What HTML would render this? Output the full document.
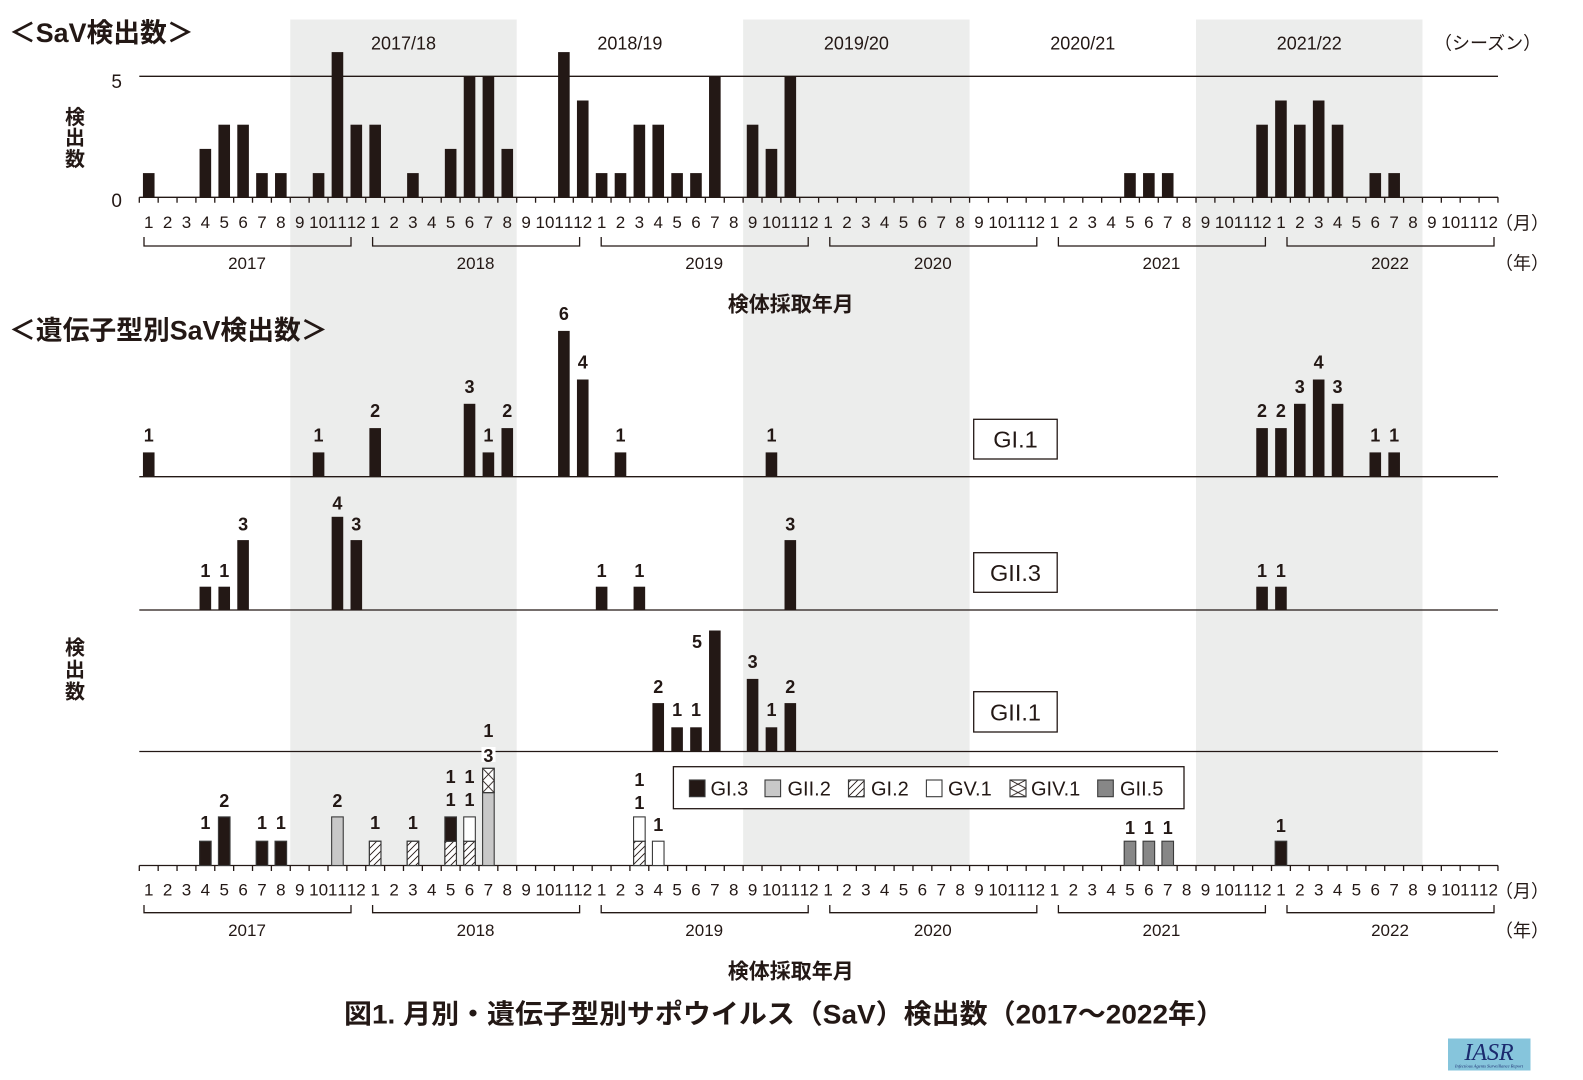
<!DOCTYPE html>
<html><head><meta charset="utf-8"><style>
html,body{margin:0;padding:0;background:#fff;}
svg{display:block;}
text{font-family:"Liberation Sans","Noto Sans CJK JP",sans-serif;fill:#231815;}
.m{font-size:17px;text-anchor:middle;}
.b{font-weight:bold;}
.v{font-size:18px;font-weight:bold;text-anchor:middle;}
</style></head><body>
<svg width="1583" height="1080" viewBox="0 0 1583 1080" xmlns="http://www.w3.org/2000/svg">
<defs>
<pattern id="hatch" patternUnits="userSpaceOnUse" width="7" height="7"><path d="M-1,8 L8,-1 M-1,1 L1,-1 M6,8 L8,6" stroke="#231815" stroke-width="0.9"/></pattern>
<pattern id="cross" patternUnits="userSpaceOnUse" x="482.6" y="768.3" width="11.6" height="12.15"><path d="M0,0 L11.6,12.15 M11.6,0 L0,12.15" stroke="#231815" stroke-width="0.9"/></pattern>
<pattern id="crossL" patternUnits="userSpaceOnUse" x="1010" y="780" width="16" height="8.35"><path d="M0,0 L16,8.35 M16,0 L0,8.35" stroke="#231815" stroke-width="0.9"/></pattern>
</defs>
<rect width="1583" height="1080" fill="#fff"/>
<!-- season shading -->
<rect x="290.26" y="19.5" width="226.44" height="846" fill="#ecedec"/>
<rect x="743.14" y="19.5" width="226.44" height="846" fill="#ecedec"/>
<rect x="1196.02" y="19.5" width="226.44" height="846" fill="#ecedec"/>

<!-- titles -->
<text x="9" y="41.8" font-size="26.8" class="b">＜SaV検出数＞</text>
<text x="9" y="339.4" font-size="26.8" class="b">＜遺伝子型別SaV検出数＞</text>

<!-- season labels -->
<g font-size="18" text-anchor="middle">
<text x="403.48" y="49.7">2017/18</text>
<text x="629.92" y="49.7">2018/19</text>
<text x="856.36" y="49.7">2019/20</text>
<text x="1082.8" y="49.7">2020/21</text>
<text x="1309.24" y="49.7">2021/22</text>
</g>
<text x="1434" y="49.5" font-size="18">（シーズン）</text>

<!-- top chart axes -->
<line x1="139.3" y1="76.3" x2="1498" y2="76.3" stroke="#231815" stroke-width="1.3"/>
<line x1="139.3" y1="197.3" x2="1498" y2="197.3" stroke="#231815" stroke-width="1.3"/>
<line x1="138.65" y1="200" x2="1499" y2="200" stroke="#231815" stroke-width="5.5" stroke-dasharray="1.3 17.57"/>
<text x="122" y="87.8" font-size="19" text-anchor="end">5</text>
<text x="122" y="206.8" font-size="19" text-anchor="end">0</text>
<g font-size="20" class="b" text-anchor="middle">
<text x="75" y="123.9">検</text><text x="75" y="144.3">出</text><text x="75" y="165.9">数</text>
</g>

<!-- top bars -->
<g fill="#231815">
<rect x="142.94" y="173.1" width="11.6" height="24.2"/>
<rect x="199.55" y="148.9" width="11.6" height="48.4"/>
<rect x="218.42" y="124.7" width="11.6" height="72.6"/>
<rect x="237.29" y="124.7" width="11.6" height="72.6"/>
<rect x="256.16" y="173.1" width="11.6" height="24.2"/>
<rect x="275.03" y="173.1" width="11.6" height="24.2"/>
<rect x="312.77" y="173.1" width="11.6" height="24.2"/>
<rect x="331.64" y="52.1" width="11.6" height="145.2"/>
<rect x="350.51" y="124.7" width="11.6" height="72.6"/>
<rect x="369.38" y="124.7" width="11.6" height="72.6"/>
<rect x="407.12" y="173.1" width="11.6" height="24.2"/>
<rect x="444.86" y="148.9" width="11.6" height="48.4"/>
<rect x="463.73" y="76.3" width="11.6" height="121"/>
<rect x="482.60" y="76.3" width="11.6" height="121"/>
<rect x="501.47" y="148.9" width="11.6" height="48.4"/>
<rect x="558.08" y="52.1" width="11.6" height="145.2"/>
<rect x="576.95" y="100.5" width="11.6" height="96.8"/>
<rect x="595.82" y="173.1" width="11.6" height="24.2"/>
<rect x="614.69" y="173.1" width="11.6" height="24.2"/>
<rect x="633.56" y="124.7" width="11.6" height="72.6"/>
<rect x="652.43" y="124.7" width="11.6" height="72.6"/>
<rect x="671.30" y="173.1" width="11.6" height="24.2"/>
<rect x="690.17" y="173.1" width="11.6" height="24.2"/>
<rect x="709.04" y="76.3" width="11.6" height="121"/>
<rect x="746.78" y="124.7" width="11.6" height="72.6"/>
<rect x="765.65" y="148.9" width="11.6" height="48.4"/>
<rect x="784.52" y="76.3" width="11.6" height="121"/>
<rect x="1124.18" y="173.1" width="11.6" height="24.2"/>
<rect x="1143.05" y="173.1" width="11.6" height="24.2"/>
<rect x="1161.92" y="173.1" width="11.6" height="24.2"/>
<rect x="1256.27" y="124.7" width="11.6" height="72.6"/>
<rect x="1275.14" y="100.5" width="11.6" height="96.8"/>
<rect x="1294.01" y="124.7" width="11.6" height="72.6"/>
<rect x="1312.88" y="100.5" width="11.6" height="96.8"/>
<rect x="1331.75" y="124.7" width="11.6" height="72.6"/>
<rect x="1369.49" y="173.1" width="11.6" height="24.2"/>
<rect x="1388.36" y="173.1" width="11.6" height="24.2"/>
</g>

<!-- top month labels -->
<g class="m">
<text y="227.8" x="148.74 167.61 186.48 205.35 224.22 243.09 261.96 280.83 299.70 313.84 323.30 332.71 342.17 351.58 361.04">123456789101112</text>
<text y="227.8" x="375.18 394.05 412.92 431.79 450.66 469.53 488.40 507.27 526.14 540.28 549.74 559.15 568.61 578.02 587.48">123456789101112</text>
<text y="227.8" x="601.62 620.49 639.36 658.23 677.10 695.97 714.84 733.71 752.58 766.72 776.18 785.59 795.05 804.46 813.92">123456789101112</text>
<text y="227.8" x="828.06 846.93 865.80 884.67 903.54 922.41 941.28 960.15 979.02 993.16 1002.62 1012.03 1021.49 1030.90 1040.36">123456789101112</text>
<text y="227.8" x="1054.50 1073.37 1092.24 1111.11 1129.98 1148.85 1167.72 1186.59 1205.46 1219.60 1229.06 1238.47 1247.93 1257.34 1266.80">123456789101112</text>
<text y="227.8" x="1280.94 1299.81 1318.68 1337.55 1356.42 1375.29 1394.16 1413.03 1431.90 1446.04 1455.50 1464.91 1474.37 1483.78 1493.24">123456789101112</text>
</g>
<text x="1495" y="229.3" font-size="18">（月）</text>
<text x="1495" y="269.3" font-size="18">（年）</text>

<!-- top brackets -->
<path d="M144,237V246H351V237 M372.6,237V246H579.6V237 M601.2,237V246H808.2V237 M829.8,237V246H1036.8V237 M1058.4,237V246H1265.4V237 M1287,237V246H1494V237" fill="none" stroke="#231815" stroke-width="1.3"/>
<g class="m">
<text x="247" y="268.8">2017</text>
<text x="475.6" y="268.8">2018</text>
<text x="704.2" y="268.8">2019</text>
<text x="932.8" y="268.8">2020</text>
<text x="1161.4" y="268.8">2021</text>
<text x="1390" y="268.8">2022</text>
</g>
<text x="790.8" y="311.3" font-size="21" class="b" text-anchor="middle">検体採取年月</text>

<!-- lower panels baselines -->
<g stroke="#231815" stroke-width="1.3">
<line x1="139.3" y1="476.7" x2="1498" y2="476.7"/>
<line x1="139.3" y1="610" x2="1498" y2="610"/>
<line x1="139.3" y1="751.5" x2="1498" y2="751.5"/>
<line x1="139.3" y1="865.5" x2="1498" y2="865.5"/>
</g>
<line x1="138.65" y1="868.2" x2="1499" y2="868.2" stroke="#231815" stroke-width="5.5" stroke-dasharray="1.3 17.57"/>

<g font-size="20" class="b" text-anchor="middle">
<text x="75" y="654.3">検</text><text x="75" y="676.6">出</text><text x="75" y="698.6">数</text>
</g>

<!-- GI.1 -->
<g fill="#231815">
<rect x="142.94" y="452.4" width="11.6" height="24.3"/>
<rect x="312.77" y="452.4" width="11.6" height="24.3"/>
<rect x="369.38" y="428.1" width="11.6" height="48.6"/>
<rect x="463.73" y="403.8" width="11.6" height="72.9"/>
<rect x="482.60" y="452.4" width="11.6" height="24.3"/>
<rect x="501.47" y="428.1" width="11.6" height="48.6"/>
<rect x="558.08" y="330.9" width="11.6" height="145.8"/>
<rect x="576.95" y="379.5" width="11.6" height="97.2"/>
<rect x="614.69" y="452.4" width="11.6" height="24.3"/>
<rect x="765.65" y="452.4" width="11.6" height="24.3"/>
<rect x="1256.27" y="428.1" width="11.6" height="48.6"/>
<rect x="1275.14" y="428.1" width="11.6" height="48.6"/>
<rect x="1294.01" y="403.8" width="11.6" height="72.9"/>
<rect x="1312.88" y="379.5" width="11.6" height="97.2"/>
<rect x="1331.75" y="403.8" width="11.6" height="72.9"/>
<rect x="1369.49" y="452.4" width="11.6" height="24.3"/>
<rect x="1388.36" y="452.4" width="11.6" height="24.3"/>
</g>
<g class="v">
<text x="148.74" y="441.4">1</text>
<text x="318.57" y="441.4">1</text>
<text x="375.18" y="417.1">2</text>
<text x="469.53" y="392.8">3</text>
<text x="488.40" y="441.4">1</text>
<text x="507.27" y="417.1">2</text>
<text x="563.88" y="319.9">6</text>
<text x="582.75" y="368.5">4</text>
<text x="620.49" y="441.4">1</text>
<text x="771.45" y="441.4">1</text>
<text x="1262.07" y="417.1">2</text>
<text x="1280.94" y="417.1">2</text>
<text x="1299.81" y="392.8">3</text>
<text x="1318.68" y="368.5">4</text>
<text x="1337.55" y="392.8">3</text>
<text x="1375.29" y="441.4">1</text>
<text x="1394.16" y="441.4">1</text>
</g>

<!-- GII.3 -->
<g fill="#231815">
<rect x="199.55" y="586.7" width="11.6" height="23.3"/>
<rect x="218.42" y="586.7" width="11.6" height="23.3"/>
<rect x="237.29" y="540.1" width="11.6" height="69.9"/>
<rect x="331.64" y="516.8" width="11.6" height="93.2"/>
<rect x="350.51" y="540.1" width="11.6" height="69.9"/>
<rect x="595.82" y="586.7" width="11.6" height="23.3"/>
<rect x="633.56" y="586.7" width="11.6" height="23.3"/>
<rect x="784.52" y="540.1" width="11.6" height="69.9"/>
<rect x="1256.27" y="586.7" width="11.6" height="23.3"/>
<rect x="1275.14" y="586.7" width="11.6" height="23.3"/>
</g>
<g class="v">
<text x="205.35" y="577">1</text>
<text x="224.22" y="577">1</text>
<text x="243.09" y="530.3">3</text>
<text x="337.44" y="509.5">4</text>
<text x="356.31" y="530.3">3</text>
<text x="601.62" y="577">1</text>
<text x="639.36" y="577">1</text>
<text x="790.32" y="530.3">3</text>
<text x="1262.07" y="577">1</text>
<text x="1280.94" y="577">1</text>
</g>

<!-- GII.1 -->
<g fill="#231815">
<rect x="652.43" y="703.1" width="11.6" height="48.4"/>
<rect x="671.30" y="727.3" width="11.6" height="24.2"/>
<rect x="690.17" y="727.3" width="11.6" height="24.2"/>
<rect x="709.04" y="630.5" width="11.6" height="121"/>
<rect x="746.78" y="678.9" width="11.6" height="72.6"/>
<rect x="765.65" y="727.3" width="11.6" height="24.2"/>
<rect x="784.52" y="703.1" width="11.6" height="48.4"/>
</g>
<g class="v">
<text x="658.23" y="692.9">2</text>
<text x="677.10" y="716.2">1</text>
<text x="695.97" y="716.2">1</text>
<text x="697" y="647.9">5</text>
<text x="752.58" y="667.9">3</text>
<text x="771.45" y="716.2">1</text>
<text x="790.32" y="692.9">2</text>
</g>

<!-- genotype boxes -->
<g fill="#fff" stroke="#231815" stroke-width="1.3">
<rect x="973.7" y="419.3" width="83.5" height="39.7"/>
<rect x="973.7" y="552.7" width="83.5" height="39.6"/>
<rect x="973.7" y="691.7" width="83.5" height="40.3"/>
</g>
<g font-size="23.5" text-anchor="middle">
<text x="1015.5" y="447.6">GI.1</text>
<text x="1015.5" y="580.9">GII.3</text>
<text x="1015.5" y="720.3">GII.1</text>
</g>

<!-- bottom stacked bars -->
<g stroke="#3a3a3a" stroke-width="1.1">
<rect x="199.55" y="841.2" width="11.6" height="24.3" fill="#231815"/>
<rect x="218.42" y="816.9" width="11.6" height="48.6" fill="#231815"/>
<rect x="256.16" y="841.2" width="11.6" height="24.3" fill="#231815"/>
<rect x="275.03" y="841.2" width="11.6" height="24.3" fill="#231815"/>
<rect x="331.64" y="816.9" width="11.6" height="48.6" fill="#c8c8c8"/>
<rect x="369.38" y="841.2" width="11.6" height="24.3" fill="#fff"/>
<rect x="369.38" y="841.2" width="11.6" height="24.3" fill="url(#hatch)"/>
<rect x="407.12" y="841.2" width="11.6" height="24.3" fill="#fff"/>
<rect x="407.12" y="841.2" width="11.6" height="24.3" fill="url(#hatch)"/>
<rect x="444.86" y="841.2" width="11.6" height="24.3" fill="#fff"/>
<rect x="444.86" y="841.2" width="11.6" height="24.3" fill="url(#hatch)"/>
<rect x="444.86" y="816.9" width="11.6" height="24.3" fill="#231815"/>
<rect x="463.73" y="841.2" width="11.6" height="24.3" fill="#fff"/>
<rect x="463.73" y="841.2" width="11.6" height="24.3" fill="url(#hatch)"/>
<rect x="463.73" y="816.9" width="11.6" height="24.3" fill="#fff"/>
<rect x="482.60" y="792.6" width="11.6" height="72.9" fill="#c8c8c8"/>
<rect x="482.60" y="768.3" width="11.6" height="24.3" fill="#fff"/>
<rect x="482.60" y="768.3" width="11.6" height="24.3" fill="url(#cross)"/>
<rect x="633.56" y="841.2" width="11.6" height="24.3" fill="#fff"/>
<rect x="633.56" y="841.2" width="11.6" height="24.3" fill="url(#hatch)"/>
<rect x="633.56" y="816.9" width="11.6" height="24.3" fill="#fff"/>
<rect x="652.43" y="841.2" width="11.6" height="24.3" fill="#fff"/>
<rect x="1124.18" y="841.2" width="11.6" height="24.3" fill="#878787"/>
<rect x="1143.05" y="841.2" width="11.6" height="24.3" fill="#878787"/>
<rect x="1161.92" y="841.2" width="11.6" height="24.3" fill="#878787"/>
<rect x="1275.14" y="841.2" width="11.6" height="24.3" fill="#231815"/>
</g>
<rect x="481.5" y="747" width="14" height="15" fill="#fff"/>
<g class="v">
<text x="205.35" y="829">1</text>
<text x="224.22" y="807">2</text>
<text x="261.96" y="829">1</text>
<text x="280.83" y="829">1</text>
<text x="337.44" y="807">2</text>
<text x="375.18" y="829">1</text>
<text x="412.92" y="829">1</text>
<text x="450.66" y="806">1</text>
<text x="450.66" y="783">1</text>
<text x="469.53" y="806">1</text>
<text x="469.53" y="783">1</text>
<text x="488.40" y="762">3</text>
<text x="488.40" y="737">1</text>
<text x="639.36" y="809">1</text>
<text x="639.36" y="786">1</text>
<text x="658.23" y="831">1</text>
<text x="1129.98" y="834">1</text>
<text x="1148.85" y="834">1</text>
<text x="1167.72" y="834">1</text>
<text x="1280.94" y="832">1</text>
</g>

<!-- legend -->
<rect x="673.4" y="766.7" width="510.6" height="42" fill="#fff" stroke="#231815" stroke-width="1.3"/>
<g stroke="#3a3a3a" stroke-width="1.1">
<rect x="689.4" y="780" width="15.6" height="16.7" fill="#231815"/>
<rect x="765" y="780" width="15.6" height="16.7" fill="#c8c8c8"/>
<rect x="848.5" y="780" width="15.6" height="16.7" fill="#fff"/>
<rect x="848.5" y="780" width="15.6" height="16.7" fill="url(#hatch)"/>
<rect x="926.4" y="780" width="15.6" height="16.7" fill="#fff"/>
<rect x="1010" y="780" width="16" height="16.7" fill="#fff"/>
<rect x="1010" y="780" width="16" height="16.7" fill="url(#crossL)"/>
<rect x="1097.7" y="780" width="15.6" height="16.7" fill="#878787"/>
</g>
<g font-size="20">
<text x="710.5" y="795.5">GI.3</text>
<text x="787.5" y="795.5">GII.2</text>
<text x="871" y="795.5">GI.2</text>
<text x="948" y="795.5">GV.1</text>
<text x="1031" y="795.5">GIV.1</text>
<text x="1120" y="795.5">GII.5</text>
</g>

<!-- bottom month labels -->
<g class="m">
<text y="895.4" x="148.74 167.61 186.48 205.35 224.22 243.09 261.96 280.83 299.70 313.84 323.30 332.71 342.17 351.58 361.04">123456789101112</text>
<text y="895.4" x="375.18 394.05 412.92 431.79 450.66 469.53 488.40 507.27 526.14 540.28 549.74 559.15 568.61 578.02 587.48">123456789101112</text>
<text y="895.4" x="601.62 620.49 639.36 658.23 677.10 695.97 714.84 733.71 752.58 766.72 776.18 785.59 795.05 804.46 813.92">123456789101112</text>
<text y="895.4" x="828.06 846.93 865.80 884.67 903.54 922.41 941.28 960.15 979.02 993.16 1002.62 1012.03 1021.49 1030.90 1040.36">123456789101112</text>
<text y="895.4" x="1054.50 1073.37 1092.24 1111.11 1129.98 1148.85 1167.72 1186.59 1205.46 1219.60 1229.06 1238.47 1247.93 1257.34 1266.80">123456789101112</text>
<text y="895.4" x="1280.94 1299.81 1318.68 1337.55 1356.42 1375.29 1394.16 1413.03 1431.90 1446.04 1455.50 1464.91 1474.37 1483.78 1493.24">123456789101112</text>
</g>
<text x="1495" y="897.6" font-size="18">（月）</text>
<text x="1495" y="936.9" font-size="18">（年）</text>

<path d="M144,905V912.7H351V905 M372.6,905V912.7H579.6V905 M601.2,905V912.7H808.2V905 M829.8,905V912.7H1036.8V905 M1058.4,905V912.7H1265.4V905 M1287,905V912.7H1494V905" fill="none" stroke="#231815" stroke-width="1.3"/>
<g class="m">
<text x="247" y="936.2">2017</text>
<text x="475.6" y="936.2">2018</text>
<text x="704.2" y="936.2">2019</text>
<text x="932.8" y="936.2">2020</text>
<text x="1161.4" y="936.2">2021</text>
<text x="1390" y="936.2">2022</text>
</g>
<text x="790.8" y="978.7" font-size="21" class="b" text-anchor="middle">検体採取年月</text>

<!-- caption -->
<text x="344" y="1023.5" font-size="27" class="b" textLength="880" lengthAdjust="spacingAndGlyphs">図1. 月別・遺伝子型別サポウイルス（SaV）検出数（2017〜2022年）</text>

<!-- IASR logo -->
<rect x="1448" y="1038.5" width="82.5" height="32" fill="#86c5dc"/>
<text x="1489" y="1060" font-size="24" text-anchor="middle" style="fill:#1b2a6e;font-family:'Liberation Serif',serif;font-style:italic;">IASR</text>
<text x="1489" y="1067.5" font-size="4.5" text-anchor="middle" style="fill:#1b2a6e;font-family:'Liberation Serif',serif;font-style:italic;">Infectious Agents Surveillance Report</text>
</svg>
</body></html>
